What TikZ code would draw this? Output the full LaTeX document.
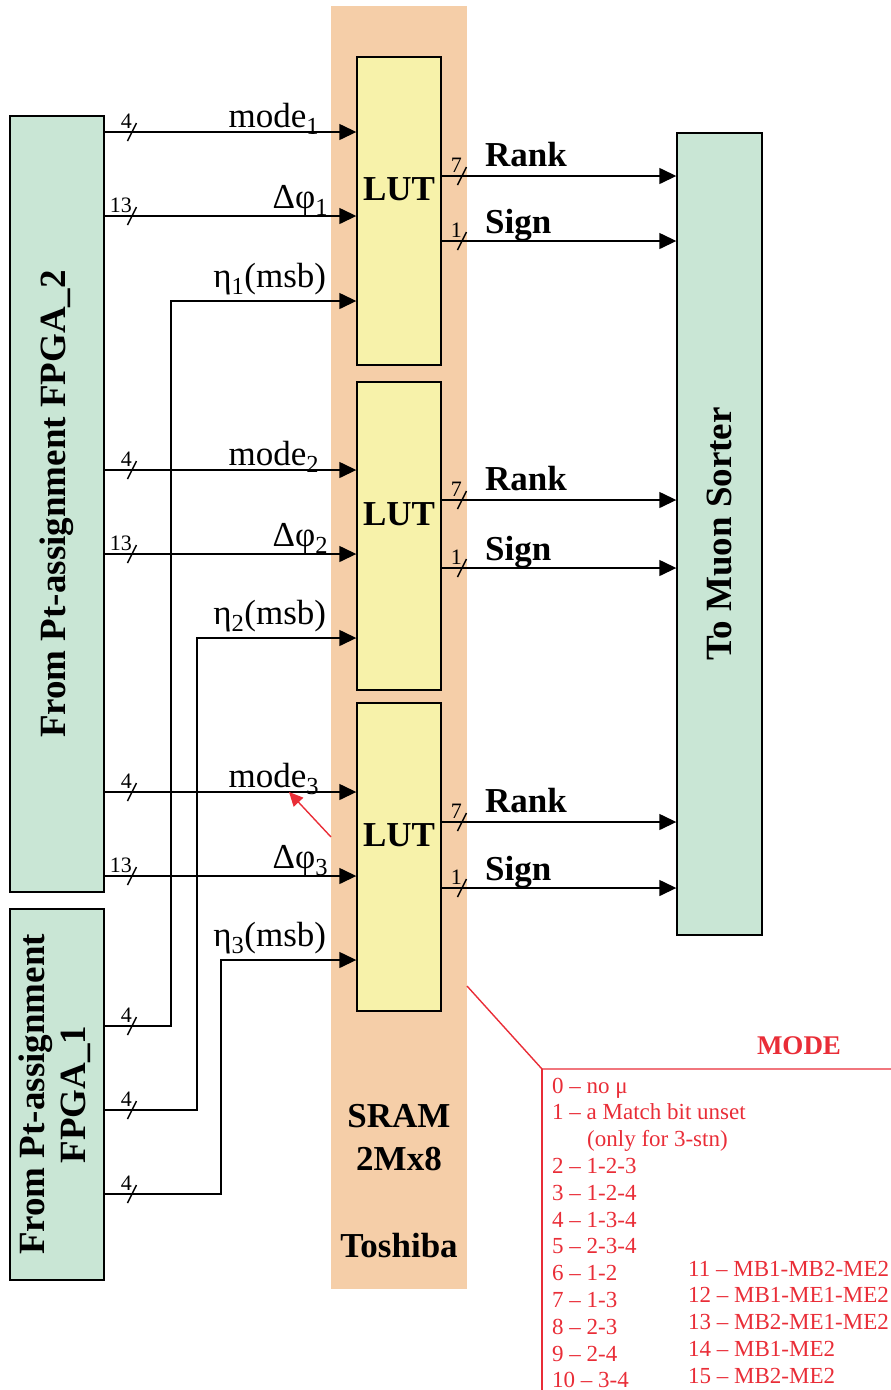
\documentclass[tikz,border=0pt]{standalone}
\usepackage{fontspec}
\setmainfont{Liberation Serif}
\usetikzlibrary{arrows.meta, positioning, calc}
\definecolor{sramorange}{RGB}{245,206,168}
\definecolor{lutyellow}{RGB}{247,242,170}
\definecolor{fpgagreen}{RGB}{201,230,213}
\definecolor{modered}{RGB}{233,45,55}
\tikzset{
    % peach strip standing for the SRAM chip
    sram/.style={fill=sramorange, draw=none, minimum width=136pt, minimum height=1283pt, inner sep=0pt},
    % look-up table block
    lut/.style={draw, fill=lutyellow, line width=1.4pt, minimum width=84pt, minimum height=308pt, inner sep=0pt},
    % source and sink boards, with vertical bold text
    board/.style={draw, fill=fpgagreen, line width=1.4pt, inner sep=0pt, font=\fontsize{37}{41}\selectfont\bfseries},
    % directed edges
    edge/.style={-{Triangle[length=17pt, width=16pt]}, line width=1.4pt},
    wireline/.style={line width=1.4pt},
    % signal names on the wires
    wire/.style={font=\fontsize{35}{38}\selectfont, inner sep=0pt, anchor=base east},
    boldlabel/.style={font=\fontsize{35}{38}\selectfont\bfseries, inner sep=0pt},
    bitwidth/.style={font=\fontsize{22}{24}\selectfont, inner sep=0pt, anchor=south east},
    % red mode table
    redline/.style={draw=modered, line width=1.4pt},
    modelist/.style={font=\fontsize{23}{27}\selectfont, text=modered, inner sep=0pt, anchor=base west},
}
\newcommand{\vlabel}[1]{\rotatebox{90}{#1}}
% bus slash with its bit count, centred on #1
\newcommand{\buswidth}[2]{%
    \draw[wireline] ($(#1)+(-4.5,9)$) -- ($(#1)+(4.5,-9)$);
    \node[bitwidth] at ($(#1)+(0,-3)$) {#2};}

\begin{document}
\begin{tikzpicture}[x=1pt, y=-1pt]
\useasboundingbox (0,0) rectangle (891,1390);

    % ---- SRAM chip ----
    \node[sram] (sram) at (399,647.5) {};
    \node[boldlabel, anchor=base] (chip)   at (399,1127) {SRAM};
    \node[boldlabel, anchor=base] (size)   at (399,1170) {2Mx8};
    \node[boldlabel, anchor=base] (vendor) at (399,1257) {Toshiba};

    % ---- boards ----
    \node[board, minimum width=94pt, minimum height=776pt] (fpga2) at (57,504)
        {\vlabel{From Pt-assignment FPGA\_2}};
    \node[board, minimum width=94pt, minimum height=371pt] (fpga1) at (57,1094.5)
        {\vlabel{\begin{tabular}{@{}c@{}}From Pt-assignment\\FPGA\_1\end{tabular}}};
    \node[board, minimum width=85pt, minimum height=802pt]
        (sorter) at (719.5,534) {\vlabel{To Muon Sorter}};

    % ---- one LUT per track: inputs, outputs ----
    \foreach \i/\c/\ym/\yp/\ye/\yr/\ys/\bx/\sy in
        {1/211/132/216/301/176/241/171/1026,
         2/536/470/554/638/500/568/197/1110,
         3/857/792/876/960/822/888/221/1194}{
        \node[lut] (lut\i) at (399,\c) {};
        \node[boldlabel] (lutname\i) at ($(lut\i)+(0,-22)$) {LUT};

        \coordinate (mode\i) at (104,\ym);
        \coordinate (phi\i)  at (104,\yp);
        \coordinate (eta\i)  at (104,\sy);
        \coordinate (bend\i) at (\bx,\ye);
        \draw[edge] (mode\i) -- (lut\i.west |- mode\i);
        \draw[edge] (phi\i) -- (lut\i.west |- phi\i);
        \draw[edge] (eta\i) -| (bend\i) -- (lut\i.west |- bend\i);
        \buswidth{$(mode\i)+(28,0)$}{4}
        \buswidth{$(phi\i)+(28,0)$}{13}
        \buswidth{$(eta\i)+(28,0)$}{4}
        \node[wire] (modename\i) at ($(lut\i.west |- mode\i)+(-37,-5)$) {mode\textsubscript{\i}};
        \node[wire] (phiname\i)  at ($(lut\i.west |- phi\i)+(-28,-8)$) {Δφ\textsubscript{\i}};
        \node[wire] (etaname\i)  at ($(lut\i.west |- bend\i)+(-30,-14)$) {η\textsubscript{\i}(msb)};

        \coordinate (rank\i) at (441,\yr);
        \coordinate (sign\i) at (441,\ys);
        \draw[edge] (rank\i) -- (sorter.west |- rank\i);
        \draw[edge] (sign\i) -- (sorter.west |- sign\i);
        \buswidth{$(rank\i)+(21,0)$}{7}
        \buswidth{$(sign\i)+(21,0)$}{1}
        \node[boldlabel, anchor=base west] at ($(rank\i)+(44,-10)$) {Rank};
        \node[boldlabel, anchor=base west] at ($(sign\i)+(44,-8)$) {Sign};
    }

    % red pointer from the Delta phi_3 label to mode_3
    \coordinate (hint) at (331,837);
    \coordinate (hintend) at (289,792);
    \draw[redline, -{Triangle[length=14pt, width=13pt]}] (hint) -- (hintend);

    % ---- MODE table ----
    \coordinate (tap) at (467,986);
    \coordinate (corner) at (542,1069);
    \draw[redline] (tap) -- (corner) -- (891,1069);
    \draw[redline] (corner) -- (542,1390);
    \node[boldlabel, font=\fontsize{27}{30}\selectfont\bfseries, text=modered, anchor=base]
        (modetitle) at (799,1054) {MODE};
    \foreach \t [count=\k from 0] in {0 – no μ, 1 – a Match bit unset,
        \hspace*{35pt}(only for 3-stn), 2 – 1-2-3, 3 – 1-2-4, 4 – 1-3-4, 5 – 2-3-4,
        6 – 1-2, 7 – 1-3, 8 – 2-3, 9 – 2-4, 10 – 3-4}
        \node[modelist] (item\k) at (552,1093+26.8*\k) {\t};
    \foreach \t [count=\k from 11] in {11 – MB1-MB2-ME2, 12 – MB1-ME1-ME2,
        13 – MB2-ME1-ME2, 14 – MB1-ME2, 15 – MB2-ME2}
        \node[modelist] (item\k) at (688,1276+26.8*\k-294.8) {\t};

\end{tikzpicture}
\end{document}
